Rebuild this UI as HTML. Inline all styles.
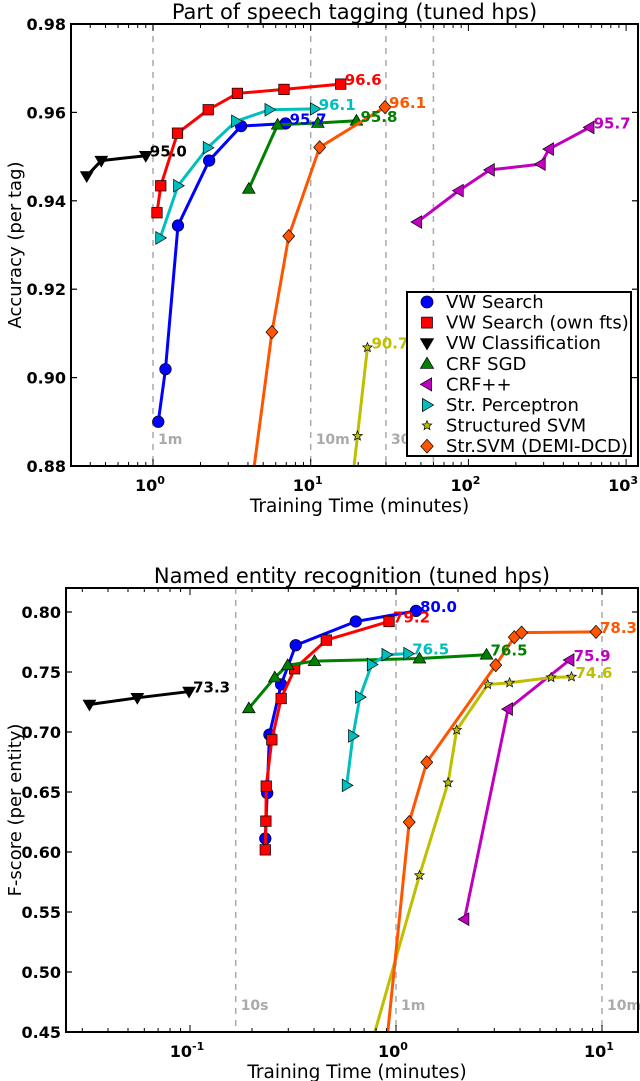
<!DOCTYPE html>
<html><head><meta charset="utf-8"><style>
html,body{margin:0;padding:0;background:#fff}
svg{display:block;font-family:"DejaVu Sans","Liberation Sans",sans-serif}
</style></head><body>
<svg id="fig" width="640" height="1081" viewBox="0 0 640 1081" xmlns="http://www.w3.org/2000/svg"></svg>
<script>
// ---------- Top chart data (Part of speech tagging) ----------
const posSeriesNames = ["VW Search","VW Search (own fts)","VW Classification","CRF SGD","CRF++","Str. Perceptron","Structured SVM","Str.SVM (DEMI-DCD)"];
const posBlueX = [1.08,1.2,1.44,2.27,3.62,6.93];
const posBlueY = [0.890,0.9019,0.9344,0.9491,0.9569,0.9575];
const posRedX = [1.06,1.12,1.43,2.24,3.43,6.77,15.5];
const posRedY = [0.9373,0.9434,0.9553,0.9606,0.9643,0.9652,0.9664];
const posBlackX = [0.38,0.47,0.90];
const posBlackY = [0.9456,0.9491,0.9502];
const posGreenX = [4.05,6.17,11.1,19.5];
const posGreenY = [0.9427,0.9572,0.9576,0.9581];
const posMagX = [47.4,87,137,288,325,587];
const posMagY = [0.9352,0.9423,0.9470,0.9483,0.9517,0.9566];
const posCyanX = [1.11,1.44,2.22,3.36,5.47,10.6];
const posCyanY = [0.9316,0.9434,0.9520,0.9580,0.9606,0.9608];
const posYelX = [17.5,19.8,22.9];
const posYelY = [0.870,0.8868,0.9068];
const posOrX = [4.2,5.68,7.26,11.4,29.6];
const posOrY = [0.875,0.9103,0.9320,0.9521,0.9612];
const posLabels = ["95.7","96.6","95.0","95.8","95.7","96.1","90.7","96.1"];
const posYTicks = [0.88,0.90,0.92,0.94,0.96,0.98];
const posYTickLabels = ["0.88","0.90","0.92","0.94","0.96","0.98"];
const posXTicks = [0,1,2,3];
const posVLines = [1,10,30,60];
const posVLineLabels = ["1m","10m","30",""];

// ---------- Bottom chart data (NER) ----------
const nerBlueX = [0.232,0.237,0.243,0.277,0.326,0.638,1.25];
const nerBlueY = [0.6112,0.6491,0.6978,0.7396,0.7723,0.7921,0.8009];
const nerRedX = [0.232,0.2335,0.2345,0.2496,0.277,0.322,0.459,0.925];
const nerRedY = [0.6018,0.6257,0.6549,0.6935,0.7279,0.7527,0.7766,0.7921];
const nerBlackX = [0.0325,0.0555,0.099];
const nerBlackY = [0.7229,0.7285,0.7337];
const nerGreenX = [0.193,0.258,0.298,0.402,1.30,2.75];
const nerGreenY = [0.7197,0.7454,0.7556,0.7591,0.7612,0.7644];
const nerMagX = [2.15,3.50,6.96];
const nerMagY = [0.544,0.7191,0.760];
const nerCyanX = [0.576,0.618,0.668,0.762,0.898,1.146];
const nerCyanY = [0.6555,0.6967,0.7291,0.7562,0.7644,0.7653];
const nerYelX = [0.76,1.30,1.79,1.97,2.79,3.56,5.66,7.11];
const nerYelY = [0.44,0.5805,0.6578,0.7016,0.7396,0.741,0.7454,0.746];
const nerOrX = [0.90,1.159,1.41,3.05,3.75,4.07,9.35];
const nerOrY = [0.44,0.6249,0.6748,0.7557,0.779,0.7828,0.7834];
const nerLabels = ["80.0","79.2","73.3","76.5","75.9","76.5","74.6","78.3"];
const nerYTicks = [0.45,0.50,0.55,0.60,0.65,0.70,0.75,0.80];
const nerYTickLabels = ["0.45","0.50","0.55","0.60","0.65","0.70","0.75","0.80"];
const nerXTicks = [-1,0,1];
const nerVLines = [1/6,1,10];
const nerVLineLabels = ["10s","1m","10m"];

const colors = ["#0000ff","#ff0000","#000000","#008000","#bf00bf","#00bfbf","#bfbf00","#ff5500"];
const markers = ["circle","square","tdown","tup","tleft","tright","star","diamond"];
const NS = "http://www.w3.org/2000/svg";
const svg = document.getElementById("fig");
function mk(tag, attrs, parent){const e=document.createElementNS(NS,tag);for(const k in attrs)e.setAttribute(k,attrs[k]);(parent||svg).appendChild(e);return e;}

function marker(g, type, x, y, col, s){
  let e;
  if(type==="circle") e=mk("circle",{cx:x,cy:y,r:s*0.55},g);
  else if(type==="square") e=mk("rect",{x:x-s*0.5,y:y-s*0.5,width:s,height:s},g);
  else {
    let pts;
    const r=s*0.6;
    if(type==="tdown") pts=[[x-r,y-r*0.7],[x+r,y-r*0.7],[x,y+r]];
    else if(type==="tup") pts=[[x-r,y+r*0.7],[x+r,y+r*0.7],[x,y-r]];
    else if(type==="tleft") pts=[[x+r*0.7,y-r],[x+r*0.7,y+r],[x-r,y]];
    else if(type==="tright") pts=[[x-r*0.7,y-r],[x-r*0.7,y+r],[x+r,y]];
    else if(type==="diamond") pts=[[x,y-r*1.05],[x+r*0.95,y],[x,y+r*1.05],[x-r*0.95,y]];
    else { pts=[]; for(let i=0;i<10;i++){const a=-Math.PI/2+i*Math.PI/5;const rr=i%2?s*0.22:s*0.5;pts.push([x+rr*Math.cos(a),y+rr*Math.sin(a)]);} }
    e=mk("polygon",{points:pts.map(p=>p.join(",")).join(" ")},g);
  }
  e.setAttribute("fill",col);e.setAttribute("stroke","#000");e.setAttribute("stroke-width","0.7");
  return e;
}

function chart(cfg){
  const {id,L,R,T,B,lxmin,lxmax,ymin,ymax} = cfg;
  const sx = v => L + (Math.log10(v)-lxmin)/(lxmax-lxmin)*(R-L);
  const sy = v => B - (v-ymin)/(ymax-ymin)*(B-T);
  const g = mk("g",{});
  
  
  const cp = mk("clipPath",{id:id+"clip"},g);
  mk("rect",{x:L,y:T,width:R-L,height:B-T},cp);
  const t = mk("text",{x:(L+R)/2,y:T-5,"text-anchor":"middle","font-size":"21"},g);
  t.textContent = cfg.title;
  
  
  cfg.vlines.forEach((v,i)=>{
    const x=sx(v);
    const ln=mk("line",{x1:x,x2:x,y1:T,y2:B,stroke:"#aaa","stroke-width":"1.5","stroke-dasharray":"6,6"},g);
    
    
    if(cfg.vlabels[i]){
      const tx=mk("text",{x:x+5,y:cfg.vlabelY,fill:"#aaa","font-size":"14","font-weight":"bold"},g);
      tx.textContent=cfg.vlabels[i];
      
      
    }
  });
  const plot = mk("g",{"clip-path":`url(#${id}clip)`},g);
  cfg.series.forEach((s,i)=>{
    const sg = mk("g",{},plot);
    
    
    const pts = s[0].map((x,j)=>[sx(x),sy(s[1][j])]);
    const pl = mk("polyline",{points:pts.map(p=>p.join(",")).join(" "),fill:"none",stroke:colors[i],"stroke-width":"3","stroke-linejoin":"round"},sg);
    
    
    pts.forEach(p=>{
      const m = marker(sg,markers[i],p[0],p[1],colors[i],markers[i]==="star"?10:10.5);
      
      
    });
  });
  cfg.series.forEach((s,i)=>{
    const n=s[0].length-1;
    const x=sx(s[0][n]), y=sy(s[1][n]);
    const lb=mk("text",{x:x+4,y:y+1,fill:colors[i],"font-size":"15","font-weight":"bold"},g);
    lb.textContent=cfg.labels[i];
    
    
  });
  const fr=mk("rect",{x:L,y:T,width:R-L,height:B-T,fill:"none",stroke:"#000","stroke-width":"2"},g);
  
  
  cfg.yticks.forEach((v,i)=>{
    const y=sy(v);
    mk("line",{x1:L,x2:L+6,y1:y,y2:y,stroke:"#000","stroke-width":"1.2"},g);
    mk("line",{x1:R,x2:R-6,y1:y,y2:y,stroke:"#000","stroke-width":"1.2"},g);
    const tx=mk("text",{x:L-5,y:y+6,"text-anchor":"end","font-size":"16","font-weight":"bold"},g);
    tx.textContent=cfg.ylabels[i];
    
    
  });
  for(let d=Math.floor(lxmin);d<=Math.ceil(lxmax);d++){
    for(let k=1;k<10;k++){
      const lv=d+Math.log10(k);
      if(lv<lxmin||lv>lxmax) continue;
      const x=L+(lv-lxmin)/(lxmax-lxmin)*(R-L);
      const len=k===1?7:4;
      mk("line",{x1:x,x2:x,y1:B,y2:B-len,stroke:"#000","stroke-width":"1"},g);
      mk("line",{x1:x,x2:x,y1:T,y2:T+len,stroke:"#000","stroke-width":"1"},g);
    }
  }
  cfg.xticks.forEach(e=>{
    const x=L+(e-lxmin)/(lxmax-lxmin)*(R-L);
    const tx=mk("text",{x:x-3,y:B+25,"text-anchor":"middle","font-size":"16","font-weight":"bold"},g);
    tx.textContent="10";
    const sup=mk("tspan",{dx:"0",dy:"-7","font-size":"11"},tx);
    sup.textContent=String(e);
    
    
  });
  const xl=mk("text",{x:(L+R)/2+5,y:B+46,"text-anchor":"middle","font-size":"18.5"},g);
  xl.textContent="Training Time (minutes)";
  
  
  const yl=mk("text",{x:0,y:0,"text-anchor":"middle","font-size":"18",transform:`translate(21,${(T+B)/2}) rotate(-90)`},g);
  yl.textContent=cfg.ytitle;
  
  
  return {sx,sy,g};
}

chart({id:"pos",title:"Part of speech tagging (tuned hps)",L:71,R:638,T:24,B:466,
  lxmin:(71-153)/157.7,lxmax:(638-153)/157.7,ymin:0.88,ymax:0.98,
  vlines:posVLines,vlabels:posVLineLabels,vlabelY:444,
  series:[[posBlueX,posBlueY],[posRedX,posRedY],[posBlackX,posBlackY],[posGreenX,posGreenY],[posMagX,posMagY],[posCyanX,posCyanY],[posYelX,posYelY],[posOrX,posOrY]],
  labels:posLabels,yticks:posYTicks,ylabels:posYTickLabels,xticks:posXTicks,ytitle:"Accuracy (per tag)"});

chart({id:"ner",title:"Named entity recognition (tuned hps)",L:66,R:638,T:588,B:1032,
  lxmin:-1+(66-190)/206,lxmax:1+(638-602)/206,ymin:0.45,ymax:0.82,
  vlines:nerVLines,vlabels:nerVLineLabels,vlabelY:1010,
  series:[[nerBlueX,nerBlueY],[nerRedX,nerRedY],[nerBlackX,nerBlackY],[nerGreenX,nerGreenY],[nerMagX,nerMagY],[nerCyanX,nerCyanY],[nerYelX,nerYelY],[nerOrX,nerOrY]],
  labels:nerLabels,yticks:nerYTicks,ylabels:nerYTickLabels,xticks:nerXTicks,ytitle:"F-score (per entity)"});

const lg=mk("g",{});


mk("rect",{x:407,y:292,width:224,height:164,fill:"#fff",stroke:"#000","stroke-width":"2"},lg);
posSeriesNames.forEach((n,i)=>{
  const y=302+i*20.6;
  const e=mk("g",{},lg);
  
  
  marker(e,markers[i],427,y,colors[i],markers[i]==="star"?10:11);
  const t=mk("text",{x:446,y:y+6,"font-size":"18"},e);
  t.textContent=n;
});
</script>
</body></html>
